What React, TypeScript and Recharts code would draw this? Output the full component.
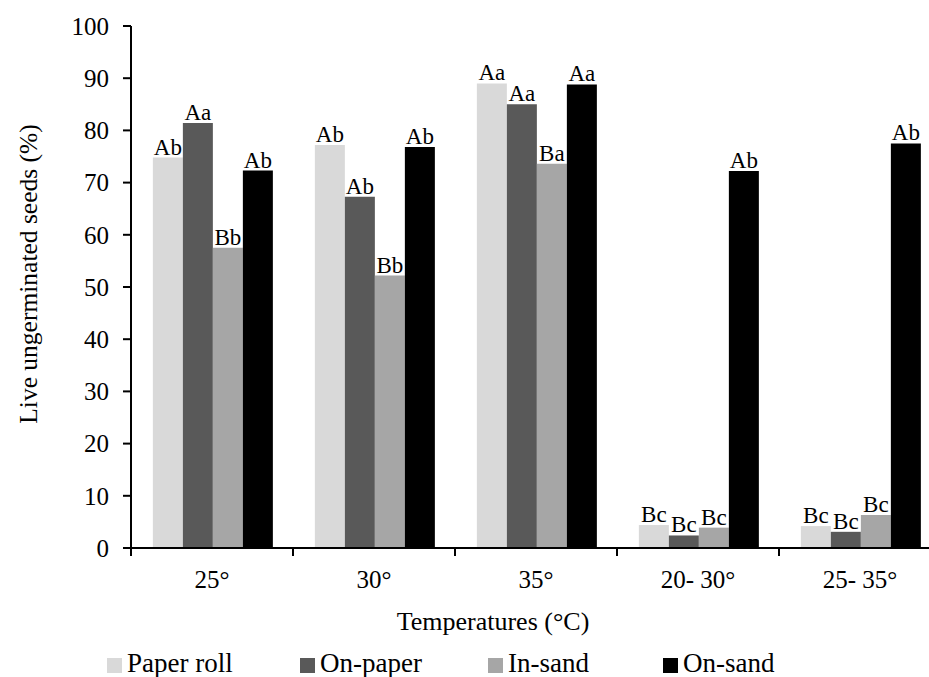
import { BarChart, Bar, XAxis, YAxis, LabelList } from 'recharts'

const temperatures = ['25°', '30°', '35°', '20- 30°', '25- 35°']

const paperRoll = [74.8, 77.2, 89.0, 4.4, 4.2]
const onPaper = [81.4, 67.3, 85.0, 2.4, 3.1]
const inSand = [57.5, 52.2, 73.6, 3.9, 6.3]
const onSand = [72.3, 76.8, 88.8, 72.2, 77.5]

const paperRollLetters = ['Ab', 'Ab', 'Aa', 'Bc', 'Bc']
const onPaperLetters = ['Aa', 'Ab', 'Aa', 'Bc', 'Bc']
const inSandLetters = ['Bb', 'Bb', 'Ba', 'Bc', 'Bc']
const onSandLetters = ['Ab', 'Ab', 'Aa', 'Ab', 'Ab']

const yTicks = [0, 10, 20, 30, 40, 50, 60, 70, 80, 90, 100]

const series = [
  { key: 'paperRoll', letters: 'paperRollLetters', name: 'Paper roll', color: '#d9d9d9' },
  { key: 'onPaper', letters: 'onPaperLetters', name: 'On-paper', color: '#595959' },
  { key: 'inSand', letters: 'inSandLetters', name: 'In-sand', color: '#a6a6a6' },
  { key: 'onSand', letters: 'onSandLetters', name: 'On-sand', color: '#000000' },
]

const data = temperatures.map((t, i) => ({
  temp: t,
  paperRoll: paperRoll[i],
  onPaper: onPaper[i],
  inSand: inSand[i],
  onSand: onSand[i],
  paperRollLetters: paperRollLetters[i],
  onPaperLetters: onPaperLetters[i],
  inSandLetters: inSandLetters[i],
  onSandLetters: onSandLetters[i],
}))

const FONT = '"Liberation Serif", "Times New Roman", serif'
const CHART_W = 941
const CHART_H = 677
const PLOT_LEFT = 131
const PLOT_TOP = 26
const PLOT_BOTTOM = 548
const BAND = (CHART_W - PLOT_LEFT) / temperatures.length
const LEGEND_X = [107, 300, 488, 663]

function TempTick(props: any) {
  const { x, payload, index } = props
  const left = x - BAND / 2
  return (
    <g>
      <line x1={left} y1={PLOT_BOTTOM} x2={left} y2={PLOT_BOTTOM + 8} stroke="#000" strokeWidth={2} />
      {index === temperatures.length - 1 && (
        <line x1={x + BAND / 2} y1={PLOT_BOTTOM} x2={x + BAND / 2} y2={PLOT_BOTTOM + 8} stroke="#000" strokeWidth={2} />
      )}
      <text x={x} y={PLOT_BOTTOM + 40} textAnchor="middle" fontSize={25} fontFamily={FONT} fill="#000">
        {payload.value}
      </text>
    </g>
  )
}

export default function App() {
  return (
    <div style={{ position: 'absolute', left: 0, top: 0, width: 929, height: 677, overflow: 'hidden', background: '#fff' }}>
      <BarChart
        width={CHART_W}
        height={CHART_H}
        data={data}
        margin={{ top: PLOT_TOP, right: 0, left: 0, bottom: 0 }}
        barCategoryGap="13.5%"
        barGap={0}
      >
        <XAxis
          dataKey="temp"
          height={CHART_H - PLOT_BOTTOM}
          axisLine={{ stroke: '#000', strokeWidth: 2 }}
          tickLine={false}
          tickSize={0}
          tick={<TempTick />}
          interval={0}
          label={{
            content: () => (
              <text x={493} y={630} textAnchor="middle" fontSize={26} fontFamily={FONT} fill="#000">
                Temperatures (°C)
              </text>
            ),
          }}
        />
        <YAxis
          width={PLOT_LEFT}
          domain={[0, 100]}
          ticks={yTicks}
          interval={0}
          axisLine={{ stroke: '#000', strokeWidth: 2 }}
          tickLine={{ stroke: '#000', strokeWidth: 2 }}
          tickSize={8}
          tickMargin={14}
          tick={{ fill: '#000', fontSize: 25, fontFamily: FONT }}
          label={{
            content: () => (
              <text
                x={28}
                y={274}
                transform="rotate(-90 28 274)"
                textAnchor="middle"
                dominantBaseline="central"
                fontSize={25.5}
                fontFamily={FONT}
                fill="#000"
              >
                Live ungerminated seeds (%)
              </text>
            ),
          }}
        />
        {series.map((s) => (
          <Bar key={s.key} dataKey={s.key} fill={s.color} isAnimationActive={false}>
            <LabelList
              dataKey={s.letters}
              position="top"
              offset={3}
              style={{ fill: '#000', fontSize: 23, fontFamily: FONT }}
            />
          </Bar>
        ))}
      </BarChart>
      {series.map((s, i) => (
        <div
          key={s.key}
          style={{
            position: 'absolute',
            left: LEGEND_X[i],
            top: 650,
            display: 'flex',
            alignItems: 'center',
            fontFamily: FONT,
            fontSize: 27,
            lineHeight: 1,
            color: '#000',
            whiteSpace: 'nowrap',
          }}
        >
          <span style={{ display: 'inline-block', width: 15, height: 15, background: s.color, marginRight: 5, marginTop: 3 }} />
          {s.name}
        </div>
      ))}
    </div>
  )
}
